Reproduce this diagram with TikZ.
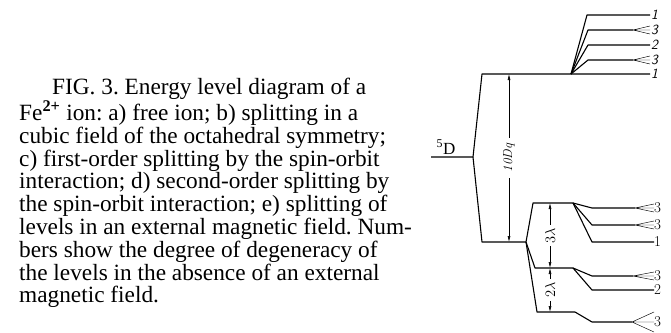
\documentclass[tikz,border=0pt]{standalone}
\usepackage{fontspec}
\usepackage{tikz}
\usetikzlibrary{arrows.meta}
\newfontfamily\captfont{Liberation Serif}
\tikzset{
  lvl/.style={line width=1.1pt, line join=round},
  fanl/.style={line width=0.45pt},
  dim/.style={{Latex[length=6pt,width=3pt]}-{Latex[length=6pt,width=3pt]}, line width=0.6pt},
  dimlab/.style={fill=white, rotate=90, inner sep=3pt},
  deg/.style={font=\fontsize{15}{15}\selectfont, inner sep=0pt, anchor=west},
  degi/.style={font=\fontsize{14}{14}\sffamily\itshape, inner sep=1pt, anchor=west},
  capt/.style={font=\captfont\fontsize{23.3}{22.8}\selectfont\frenchspacing, align=left, inner sep=0pt}
}
\begin{document}
\begin{tikzpicture}[x=1pt, y=-1pt]
  \useasboundingbox (0,0) rectangle (671,332);
  % caption
  \node[capt, anchor=north west] (cap) at (19,78)
    {\hspace*{33pt}FIG. 3. Energy level diagram of a\\
     Fe\textsuperscript{\bfseries 2+} ion: a) free ion; b) splitting in a\\
     cubic field of the octahedral symmetry;\\
     c) first-order splitting by the spin-orbit\\
     interaction; d) second-order splitting by\\
     the spin-orbit interaction; e) splitting of\\
     levels in an external magnetic field. Num-\\
     bers show the degree of degeneracy of\\
     the levels in the absence of an external\\
     magnetic field.};
  % levels
  \coordinate (fa) at (431,157);
  \coordinate (fb) at (473,157);
  \coordinate (egL) at (482,74);
  \coordinate (egR) at (571,74);
  \coordinate (tL) at (482,242);
  \coordinate (tR) at (526,242);
  \coordinate (aL) at (533,203);
  \coordinate (aR) at (573,203);
  \coordinate (bL) at (535,268);
  \coordinate (bR) at (573,268);
  \coordinate (cL) at (537,312);
  \coordinate (cR) at (575,312);
  \node[font=\captfont\fontsize{17}{17}\selectfont, inner sep=0pt] (fd) at (446,147) {\textsuperscript{5}D};
  \node[degi] (e0l) at (650,74) {1};
  \draw[lvl] (fa) -- (fb) -- (egL) -- (egR) -- (e0l.west);
  \draw[lvl] (fb) -- (tL) -- (tR);
  \draw[lvl] (tR) -- (aL) -- (aR);
  \draw[lvl] (tR) -- (bL) -- (bR);
  \draw[lvl] (tR) -- (cL) -- (cR);
  % splitting of the upper level
  \foreach \n/\bx/\y/\fx/\s/\d in {e1/587/15/0/0/1, e2/588/30/633/4/3, e3/588/45/0/0/2, e4/588/60/633/4/3}{
    \coordinate (\n) at (\bx,\y);
    \node[degi] (\n l) at (650,\y) {\d};
    \ifnum\s=0
      \draw[lvl] (egR) -- (\n) -- (\n l.west);
    \else
      \draw[lvl] (egR) -- (\n) -- (\fx,\y) coordinate (\n f);
      \draw[fanl] (\n f) -- ([yshift=\s pt]\n l.west) (\n f) -- (\n l.west) (\n f) -- ([yshift=-\s pt]\n l.west);
    \fi
  }
  % second-order splitting
  \foreach \p/\n/\bx/\y/\fx/\s/\d in {aR/a1/592/208/635/4/3, aR/a2/592/225/635/4/3, aR/a3/592/242/0/0/1,
      bR/b1/592/276/633/4/3, bR/b2/592/290/0/0/2, cR/c1/592/322/632/10/3}{
    \coordinate (\n) at (\bx,\y);
    \node[deg] (\n l) at (654,\y) {\d};
    \ifnum\s=0
      \draw[lvl] (\p) -- (\n) -- (\n l.west);
    \else
      \draw[lvl] (\p) -- (\n) -- (\fx,\y) coordinate (\n f);
      \draw[fanl] (\n f) -- ([yshift=\s pt]\n l.west) (\n f) -- (\n l.west) (\n f) -- ([yshift=-\s pt]\n l.west);
    \fi
  }
  % gaps
  \coordinate (dqt) at (509,74);
  \coordinate (dqb) at (509,242);
  \coordinate (l3t) at (550,203);
  \coordinate (l3b) at (550,268);
  \coordinate (l2b) at (550,312);
  \draw[dim] (dqb) -- node[dimlab, inner sep=6pt, font=\fontsize{13}{13}\selectfont\itshape] (dq) {10Dq} (dqt);
  \draw[dim] (l3b) -- node[dimlab, font=\fontsize{15}{15}\selectfont] (g3) {$3\lambda$} (l3t);
  \draw[dim] (l2b) -- node[dimlab, font=\fontsize{15}{15}\selectfont] (g2) {$2\lambda$} (l3b);
\end{tikzpicture}
\end{document}
